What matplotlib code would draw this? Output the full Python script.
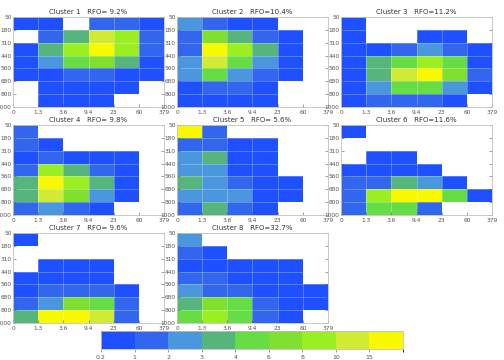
import matplotlib
matplotlib.use('Agg')
import matplotlib.pyplot as plt
from matplotlib.colors import ListedColormap, BoundaryNorm
import numpy as np

n = np.nan

# optical depth bins (x) and cloud top pressure bins (y, top to bottom)
tau_labels = ['0', '1.3', '3.6', '9.4', '23', '60', '379']
ctp_labels = ['50', '180', '310', '440', '560', '680', '800', '1000']

titles = ['Cluster 1   RFO= 9.2%', 'Cluster 2   RFO=10.4%', 'Cluster 3   RFO=11.2%',
          'Cluster 4   RFO= 9.8%', 'Cluster 5   RFO= 5.6%', 'Cluster 6   RFO=11.6%',
          'Cluster 7   RFO= 9.6%', 'Cluster 8   RFO=32.7%']

# cloud fraction (%) per cell, rows = pressure bins from 50 hPa downward
c1 = [[0.6, 0.6, n, 1.5, 1.5, 0.6],
      [n, 1.5, 3.5, 12, 9, 1.5],
      [0.6, 3.5, 9, 18, 9, 1.5],
      [0.6, 2.5, 5, 7, 3.5, 0.6],
      [0.6, 0.6, 1.5, 1.5, 0.6, 0.6],
      [n, 0.6, 0.6, 0.6, 0.6, n],
      [n, 0.6, 0.6, 0.6, n, n]]
c2 = [[2.5, 1.5, 0.6, 0.6, n, n],
      [1.5, 7, 3.5, 1.5, 0.6, n],
      [1.5, 18, 9, 3.5, 0.6, n],
      [2.5, 12, 5, 2.5, 0.6, n],
      [2.5, 5, 2.5, 1.5, 0.6, n],
      [0.6, 1.5, 1.5, 0.6, n, n],
      [0.6, 0.6, 0.6, 0.6, n, n]]
c3 = [[0.6, n, n, n, n, n],
      [0.6, n, n, 0.6, 0.6, n],
      [0.6, 0.6, 1.5, 2.5, 1.5, 0.6],
      [0.6, 3.5, 5, 9, 5, 0.6],
      [0.6, 3.5, 12, 18, 7, 1.5],
      [0.6, 2.5, 5, 5, 2.5, 0.6],
      [0.6, 1.5, 1.5, 1.5, 0.6, n]]
c4 = [[1.5, n, n, n, n, n],
      [1.5, 0.6, n, n, n, n],
      [0.6, 1.5, 0.6, 0.6, 0.6, n],
      [1.5, 9, 3.5, 1.5, 0.6, n],
      [3.5, 18, 9, 3.5, 0.6, n],
      [3.5, 12, 7, 2.5, 0.6, n],
      [1.5, 2.5, 1.5, 0.6, n, n]]
c5 = [[18, 1.5, n, n, n, n],
      [1.5, 1.5, 0.6, 0.6, n, n],
      [2.5, 3.5, 0.6, 0.6, n, n],
      [2.5, 2.5, 0.6, 0.6, n, n],
      [3.5, 2.5, 1.5, 0.6, 0.6, n],
      [2.5, 2.5, 2.5, 0.6, 0.6, n],
      [1.5, 3.5, 1.5, 0.6, n, n]]
c6 = [[0.6, n, n, n, n, n],
      [n, n, n, n, n, n],
      [n, 0.6, 0.6, n, n, n],
      [0.6, 0.6, 0.6, 0.6, n, n],
      [1.5, 1.5, 3.5, 2.5, 0.6, n],
      [1.5, 9, 18, 18, 5, 0.6],
      [1.5, 5, 5, 1.5, n, n]]
c7 = [[0.6, n, n, n, n, n],
      [n, n, n, n, n, n],
      [n, 0.6, 0.6, 0.6, n, n],
      [0.6, 0.6, 0.6, 0.6, n, n],
      [0.6, 1.5, 1.5, 1.5, 0.6, n],
      [1.5, 2.5, 7, 5, 1.5, n],
      [3.5, 18, 18, 12, 1.5, n]]
c8 = [[2.5, n, n, n, n, n],
      [1.5, 0.6, n, n, n, n],
      [0.6, 0.6, 0.6, 0.6, 0.6, n],
      [1.5, 1.5, 0.6, 0.6, 0.6, n],
      [2.5, 1.5, 1.5, 0.6, 0.6, 0.6],
      [3.5, 7, 5, 1.5, 0.6, 0.6],
      [5, 9, 5, 1.5, 0.6, n]]
clusters = [c1, c2, c3, c4, c5, c6, c7, c8]

levels = [0.2, 1, 2, 3, 4, 6, 8, 10, 15, 100]
level_labels = ['0.2', '1', '2', '3', '4', '6', '8', '10', '15']
colors = ['#1f50ff', '#3366ee', '#4a97dd', '#55b57d', '#66dd44',
          '#80e030', '#9aee22', '#d0ea35', '#f8f800']
cmap = ListedColormap(colors)
cmap.set_bad('white')
norm = BoundaryNorm(levels, cmap.N)

W, H = 504, 360
fig = plt.figure(figsize=(W / 100, H / 100), dpi=100)

lefts = [13, 177, 341]
tops = [17, 125, 233]
pw, ph = 151, 90

for i, data in enumerate(clusters):
    r, c = divmod(i, 3)
    ax = fig.add_axes([lefts[c] / W, 1 - (tops[r] + ph) / H, pw / W, ph / H])
    arr = np.ma.masked_invalid(np.array(data, dtype=float))
    ax.pcolormesh(np.arange(7), np.arange(8), arr, cmap=cmap, norm=norm)
    ax.set_xlim(0, 6)
    ax.set_ylim(7, 0)
    ax.set_xticks(np.arange(7))
    ax.set_xticklabels(tau_labels)
    ax.set_yticks(np.arange(8))
    ax.set_yticklabels(ctp_labels)
    ax.tick_params(labelsize=4.2, length=2, width=0.4, pad=1,
                   colors='#555555', direction='in', right=True)
    ax.tick_params(axis='x', pad=2)
    ax.grid(True, color='white', alpha=0.3, linewidth=0.6)
    for s in ax.spines.values():
        s.set_color('#c0c0c0')
        s.set_linewidth(0.6)
    ax.set_title(titles[i], fontsize=5, pad=2, color='#333333')

# colorbar strip
cax = fig.add_axes([101 / W, 1 - 349 / H, 302 / W, 18 / H])
sm = plt.cm.ScalarMappable(cmap=cmap, norm=norm)
cb = fig.colorbar(sm, cax=cax, orientation='horizontal', spacing='uniform',
                  ticks=levels[:-1])
cb.ax.set_xticklabels(level_labels)
cb.ax.tick_params(labelsize=4.5, length=2, width=0.4, pad=2, colors='#555555')
cb.outline.set_edgecolor('#c0c0c0')
cb.outline.set_linewidth(0.6)

fig.savefig('out.png', dpi=100)
